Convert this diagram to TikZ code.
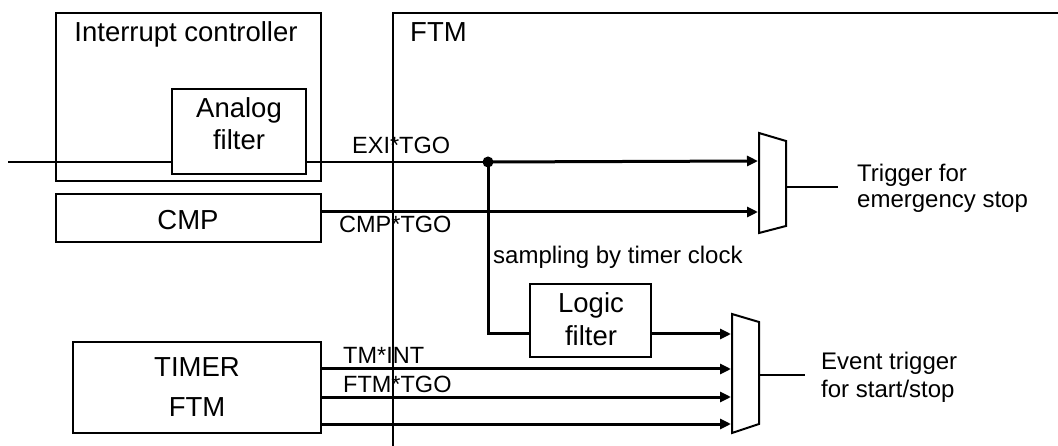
\documentclass[tikz,border=0pt]{standalone}
\usepackage{fontspec}
\setmainfont{Liberation Sans}
\usetikzlibrary{arrows.meta}
\begin{document}
\begin{tikzpicture}[x=1pt,y=-1pt,
  boxfont/.style={font=\fontsize{27.5}{32}\selectfont},
  sigfont/.style={font=\fontsize{23.5}{26}\selectfont},
  txtfont/.style={font=\fontsize{24}{26}\selectfont},
  lbl/.style={inner sep=0pt,anchor=base},
  lblw/.style={inner sep=0pt,anchor=base west},
  blk/.style={draw,line width=1.3pt,inner sep=0pt},
  thinline/.style={line width=1.1pt},
  thickline/.style={line width=3pt},
  sig/.style={line width=3pt,-{Triangle[length=11pt,width=10pt]}},
  mux/.style={draw,line width=2pt,fill=white}
]
\useasboundingbox (0,0) rectangle (1058,446);
% FTM frame (open on the right and bottom)
\draw[thinline] (393,446) -- (393,13) -- (1060,13);
\node[lblw,boxfont] (ftmlbl) at (410,42) {FTM};
% Interrupt controller
\node[blk,minimum width=265pt,minimum height=168pt] (ic) at (188.5,97) {};
\node[lbl,boxfont] (iclbl) at (186,42) {Interrupt controller};
\node[blk,minimum width=134pt,minimum height=85pt] (af) at (239,131.5) {};
\node[lbl,boxfont] (aflbl1) at (239,118) {Analog};
\node[lbl,boxfont] (aflbl2) at (239,150) {filter};
% CMP
\node[blk,minimum width=265pt,minimum height=48pt] (cmp) at (188.5,218) {};
\node[lbl,boxfont] (cmplbl) at (188,230) {CMP};
% TIMER FTM
\node[blk,minimum width=248pt,minimum height=91pt] (tim) at (197,387.5) {};
\node[lbl,boxfont] (timlbl1) at (197,377) {TIMER};
\node[lbl,boxfont] (timlbl2) at (197,417) {FTM};
% Logic filter
\node[blk,minimum width=121pt,minimum height=73pt] (lf) at (590.5,320.5) {};
\node[lbl,boxfont] (lflbl1) at (591,313) {Logic};
\node[lbl,boxfont] (lflbl2) at (591,346) {filter};
% muxes
\draw[mux] (759,133) -- (786,141) -- (786,226) -- (759,233) -- cycle;
\draw[mux] (732,314) -- (759,322) -- (759,424) -- (732,433) -- cycle;
\coordinate (m1a) at (758,161);
\coordinate (m1b) at (758,212);
\coordinate (m1o) at (786,187);
\coordinate (m2a) at (731,334);
\coordinate (m2b) at (731,369);
\coordinate (m2c) at (731,397);
\coordinate (m2d) at (731,424);
\coordinate (m2o) at (759,375);
\coordinate (o1) at (838,187);
\coordinate (o2) at (805,375);
\coordinate (in) at (8,162);
\coordinate (jn) at (488,162);
% signals
\draw[thinline] (in) -- (af.west |- in);
\draw[thinline] (af.east |- in) -- (jn);
\draw[sig] (jn) -- (m1a);
\draw[sig] (cmp.east |- m1b) -- (m1b);
\draw[thickline] (jn) -- (488,333.5) -- (lf.west |- 0,333.5);
\draw[sig] (lf.east |- m2a) -- (m2a);
\draw[sig] (tim.east |- m2b) -- (m2b);
\draw[sig] (tim.east |- m2c) -- (m2c);
\draw[sig] (tim.east |- m2d) -- (m2d);
\fill (jn) circle (5.5pt);
\draw[thinline] (m1o) -- (o1);
\draw[thinline] (m2o) -- (o2);
% labels
\node[lblw,sigfont] (l1) at (352,154) {EXI*TGO};
\node[lblw,sigfont] (l2) at (339,233) {CMP*TGO};
\node[lblw,txtfont] (l3) at (493,264) {sampling by timer clock};
\node[lblw,sigfont] (l4) at (343,363) {TM*INT};
\node[lblw,sigfont] (l5) at (343,392) {FTM*TGO};
\node[lblw,txtfont] (t1) at (857,182) {Trigger for};
\node[lblw,txtfont] (t2) at (857,208) {emergency stop};
\node[lblw,txtfont] (t3) at (821,370) {Event trigger};
\node[lblw,txtfont] (t4) at (821,397) {for start/stop};
\end{tikzpicture}
\end{document}
